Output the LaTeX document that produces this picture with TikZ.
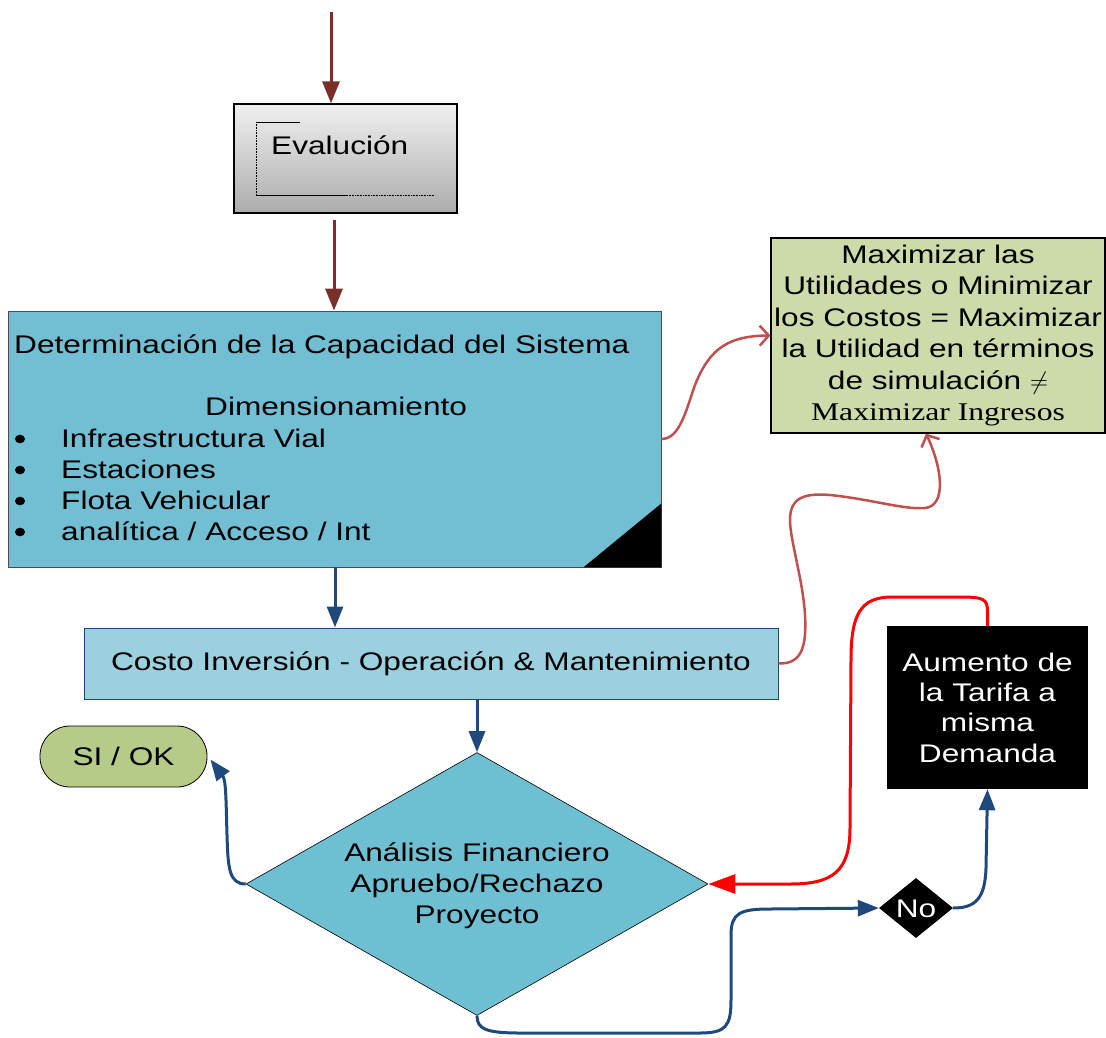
\documentclass[tikz,border=0pt]{standalone}
\usepackage{fontspec}
\setmainfont[FakeStretch=1.24]{Liberation Sans}
\newfontfamily\stserif[FakeStretch=1.24]{Liberation Serif}
\usetikzlibrary{arrows.meta,shapes.geometric,calc}
\definecolor{brownarrow}{RGB}{122,48,40}
\definecolor{bluearrow}{RGB}{31,73,125}
\definecolor{redbrown}{RGB}{192,80,77}
\definecolor{capfill}{RGB}{114,190,211}
\definecolor{costofill}{RGB}{155,208,223}
\definecolor{diafill}{RGB}{111,191,210}
\definecolor{sifill}{RGB}{183,203,136}
\definecolor{maxfill}{RGB}{205,219,170}
\begin{document}
\begin{tikzpicture}[x=1pt,y=-1pt,
  txt/.style={font=\fontsize{25.5}{31}\selectfont, inner sep=0pt},
  brownarr/.style={draw=brownarrow, line width=3pt, -{Triangle[length=22pt,width=17pt]}},
  bluearr/.style={draw=bluearrow, line width=3pt, -{Triangle[length=21pt,width=16pt]}},
  redarr/.style={draw=red, line width=3pt, -{Triangle[length=27pt,width=19pt]}},
  rbarr/.style={draw=redbrown, line width=2.5pt, -{Straight Barb[length=9pt,width=20pt]}}]
\useasboundingbox (0,0) rectangle (1106,1037);

% Evaluacion
\node[draw, line width=1.2pt, top color=gray!12, bottom color=gray!65, minimum width=223, minimum height=109, inner sep=0] (eval) at (345.5,158.5) {};
\draw[line width=0.6pt] (256,122) -- (300,122);
\draw[line width=0.6pt, densely dotted] (256,122) -- (256,195);
\draw[line width=0.6pt] (256,195) -- (347,195);
\draw[line width=0.6pt, densely dotted] (347,195) -- (435,195);
\node[txt, anchor=base west] (evaltxt) at (271,154) {Evalución};

% Capacidad
\node[draw=black!70, fill=capfill, line width=0.8pt, minimum width=653, minimum height=256, inner sep=0] (cap) at (334.5,439) {};
\fill ($(cap.south east)+(-78,0)$) -- (cap.south east) -- ($(cap.south east)+(0,-64)$) -- cycle;
\node[txt, anchor=base west] (captitle) at (14,353) {Determinación de la Capacidad del Sistema};
\node[txt, anchor=base west] (dimen) at (205,415) {Dimensionamiento};
\foreach \yy/\tt/\nn in {447/{Infraestructura Vial}/b1, 478/{Estaciones}/b2, 509/{Flota Vehicular}/b3, 540/{analítica / Acceso / Int}/b4}{
  \fill (20,\yy-8) ellipse [x radius=5, y radius=4.3];
  \node[txt, anchor=base west] (\nn) at (61,\yy) {\tt};
}

% Costo
\node[draw=bluearrow, fill=costofill, line width=1pt, minimum width=694, minimum height=71, inner sep=0, txt] (costo) at (431,663.5) {Costo Inversión - Operación \& Mantenimiento};

% Diamond
\node[diamond, draw=black, fill=diafill, line width=0.6pt, minimum width=462, minimum height=263, inner sep=0] (dia) at (477,884) {};
\node[txt, align=center] (diatxt) at (477,886) {Análisis Financiero\\Apruebo/Rechazo\\Proyecto};

% SI / OK
\node[draw, line width=0.8pt, fill=sifill, rounded corners=30pt, minimum width=167, minimum height=61, txt] (si) at (123.5,756.5) {SI / OK};

% No
\node[diamond, fill=black, minimum width=74, minimum height=60, inner sep=0] (no) at (916,908) {};
\node[txt, text=white] (notxt) at (916,909) {No};

% Aumento
\node[fill=black, minimum width=201, minimum height=163, txt, text=white, align=center, font=\fontsize{25.5}{30.3}\selectfont] (aum) at (987.5,707.5) {Aumento de\\la Tarifa a\\misma\\Demanda};

% Maximizar
\node[draw, line width=1.2pt, fill=maxfill, minimum width=334, minimum height=195, txt, align=center, font=\fontsize{25.5}{31.4}\selectfont] (max) at (938,335.5) {Maximizar las\\Utilidades o Minimizar\\los Costos = Maximizar\\la Utilidad en términos\\de simulación $\neq$\\{\stserif Maximizar Ingresos}};

% connectors
\coordinate (start) at (331,12);
\draw[brownarr] (start) -- (start |- eval.north);
\draw[brownarr] ($(eval.south)+(-11.5,6)$) -- ($(cap.north)+(-0.5,0)$);
\draw[bluearr] ($(cap.south)+(0.5,0)$) -- ($(costo.north)+(-96,0)$);
\draw[bluearr] ($(costo.south)+(46,0)$) -- (dia.north);
\draw[bluearr] (dia.west) .. controls (229,884) and (228,868) .. (227,835) .. controls (226,800) and (226,780) .. ($(si.east)+(3,3)$);
\draw[bluearr] (dia.south) .. controls (477,1029) and (486,1033) .. (520,1033) -- (700,1033) .. controls (726,1033) and (731,1026) .. (731,1000) -- (731,935) .. controls (731,913) and (740,909) .. (770,909) -- (no.west);
\draw[bluearr] (no.east) .. controls (976,908) and (985,898) .. (986,868) -- (aum.south);
\draw[redarr] (aum.north) -- (987.5,612) .. controls (987.5,599) and (984,597) .. (960,597) -- (892,597) .. controls (860,597) and (851,615) .. (851,660) -- (850,828) .. controls (850,872) and (832,884) .. (790,884) -- (dia.east);
\draw[rbarr] (cap.east) .. controls (680,439) and (686,410) .. (695,385) .. controls (710,347) and (730,336) .. (max.west);
\draw[rbarr] (costo.east) .. controls (800,664) and (807,650) .. (805,615) .. controls (803,580) and (790,540) .. (790,520) .. controls (790,497) and (805,493) .. (830,495) .. controls (870,499) and (905,510) .. (925,508) .. controls (946,506) and (943,470) .. ($(max.south)+(-12,0)$);
\end{tikzpicture}
\end{document}
